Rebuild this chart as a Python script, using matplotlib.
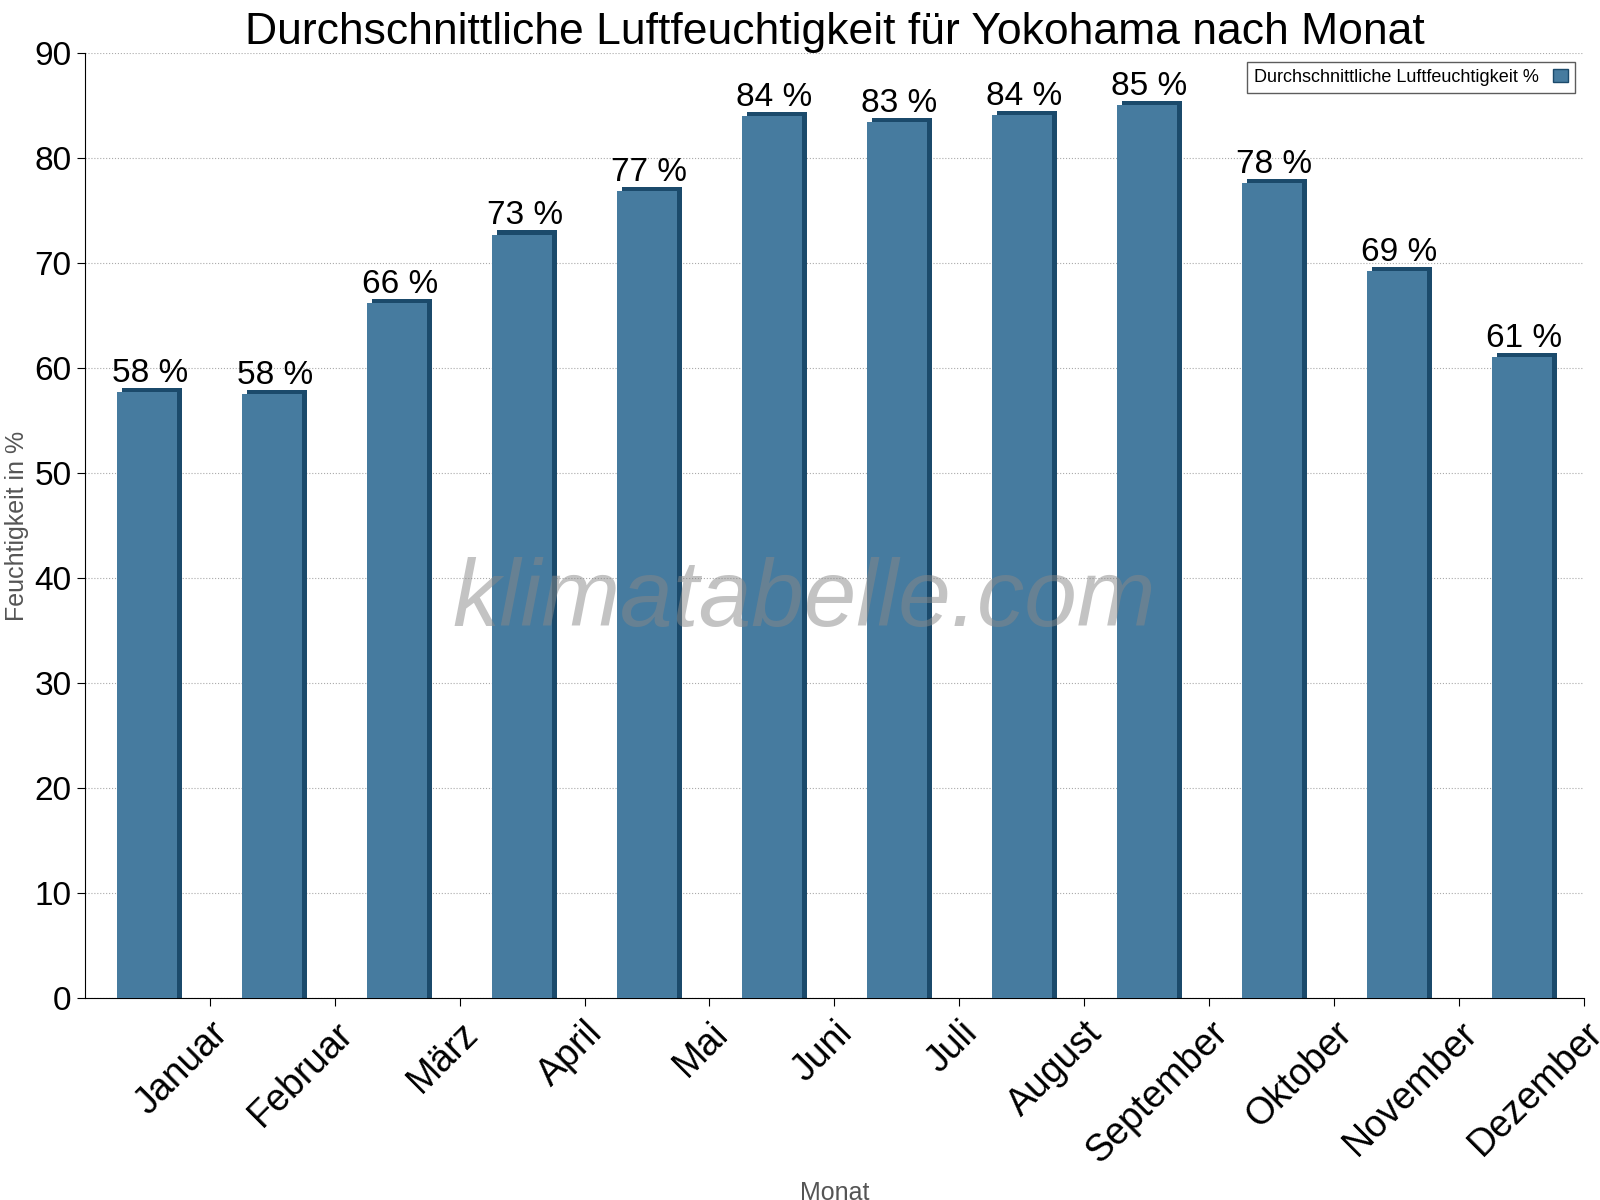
import numpy as np
import matplotlib
matplotlib.use('Agg')
import matplotlib.pyplot as plt
from matplotlib.patches import Patch

plt.rcParams['font.family'] = 'Liberation Sans'

monate = ['Januar', 'Februar', 'März', 'April', 'Mai', 'Juni', 'Juli',
          'August', 'September', 'Oktober', 'November', 'Dezember']
feuchte = [57.7, 57.5, 66.2, 72.7, 76.8, 84.0, 83.4, 84.1, 85.0, 77.6, 69.2, 61.0]
beschriftung = ['58 %', '58 %', '66 %', '73 %', '77 %', '84 %', '83 %',
                '84 %', '85 %', '78 %', '69 %', '61 %']

hell = '#467b9f'
dunkel = '#1b4a6b'

fig = plt.figure(figsize=(16, 12), dpi=100)
ax = fig.add_axes([0.053, 0.168, 0.937, 0.788])

x = np.arange(len(monate))
breite = 0.48
# dark side/top for 3D look
ax.bar(x + 0.04, [v + 0.4 for v in feuchte], width=breite, color=dunkel, zorder=2)
ax.bar(x, feuchte, width=breite, color=hell, zorder=3)

for xi, v, t in zip(x, feuchte, beschriftung):
    ax.text(xi + 0.02, v + 0.3, t, ha='center', va='bottom', fontsize=24, zorder=4)

ax.set_xlim(-0.5, 11.5)
ax.set_ylim(0, 90)
ax.set_yticks(range(0, 91, 10))
ax.tick_params(axis='y', labelsize=24, length=6)
ax.set_xticks(x + 0.5)
ax.set_xticklabels(monate, rotation=45, ha='right', rotation_mode='anchor', fontsize=27)
ax.tick_params(axis='x', length=6, pad=6)
for lbl in ax.get_xticklabels():
    lbl.set_x(lbl.get_position()[0])
ax.grid(axis='y', linestyle=':', color='#aaaaaa', zorder=0)
ax.spines['right'].set_visible(False)
ax.spines['top'].set_visible(False)

ax.set_title('Durchschnittliche Luftfeuchtigkeit für Yokohama nach Monat', fontsize=32, pad=6)
ax.set_ylabel('Feuchtigkeit in %', fontsize=18, color='#555555')
ax.set_xlabel('Monat', fontsize=18, color='#555555', labelpad=8)

ax.text(0.48, 0.42, 'klimatabelle.com', transform=ax.transAxes, fontsize=68,
        style='italic', color='#888888', alpha=0.5, ha='center', va='center',
        zorder=5)

ax.legend(handles=[Patch(facecolor=hell, edgecolor=dunkel)],
          labels=['Durchschnittliche Luftfeuchtigkeit %'],
          loc='upper right', fontsize=13, frameon=True, fancybox=False,
          edgecolor='#333333', markerfirst=False, handlelength=0.8,
          borderaxespad=0.5)

plt.savefig('out.png')
